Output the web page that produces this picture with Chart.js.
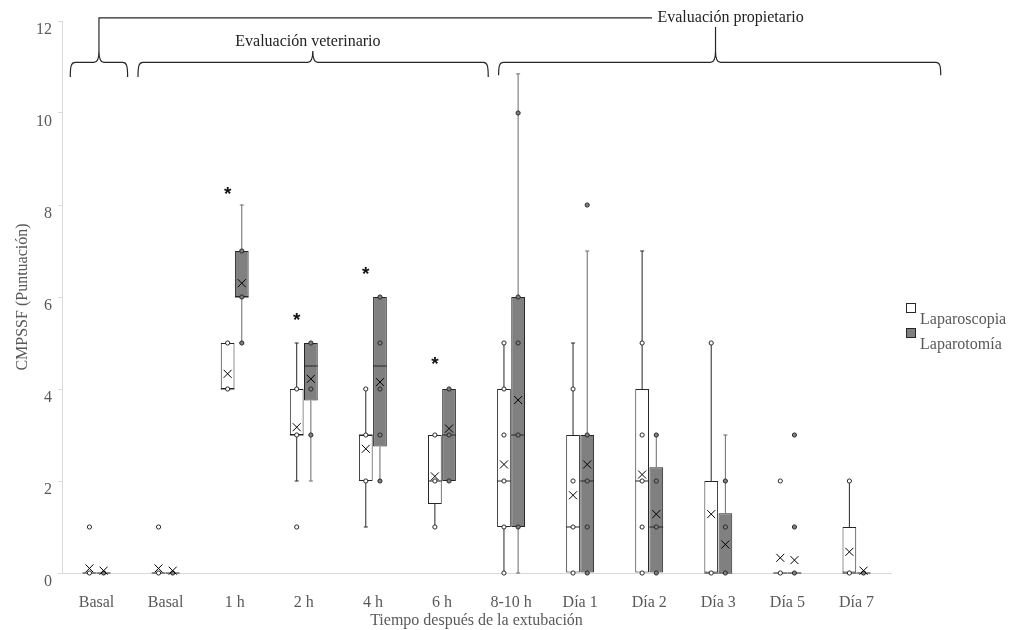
<!DOCTYPE html>
<html><head><meta charset="utf-8">
<script src="https://cdn.jsdelivr.net/npm/chart.js@4/dist/chart.umd.min.js"></script>
<style>html,body{margin:0;padding:0;background:#fff}#wrap{width:1014px;height:630px}</style>
</head><body><div id="wrap"><canvas id="c" width="1014" height="630"></canvas></div>
<script>
const categories = ['Basal','Basal','1 h','2 h','4 h','6 h','8-10 h','Día 1','Día 2','Día 3','Día 5','Día 7'];
const yTicks = [0,2,4,6,8,10,12];

// Laparoscopia (white boxes)
const lapMin  = [0,0,4,2,1,1,0,0,0,0,0,0];
const lapQ1   = [0,0,4,3,2,1.5,1,0,0,0,0,0];
const lapMed  = [0,0,4,3,3,2,2,1,2,0,0,0];
const lapQ3   = [0,0,5,4,3,3,4,3,4,2,0,1];
const lapMax  = [0,0,5,5,4,3,5,5,7,5,0,2];
const lapMean = [0.1,0.1,4.33,3.17,2.7,2.1,2.36,1.69,2.14,1.28,0.33,0.46];
const lapPoints = [[0,1],[0,1],[4,5],[1,3,4],[2,3,4],[1,2,3],[0,1,2,3,4,5],[0,1,2,4],[0,1,2,3,5],[0,5],[0,2],[0,2]];

// Laparotomía (grey boxes)
const lotMin  = [0,0,5,2,2,2,0,0,0,0,0,0];
const lotQ1   = [0,0,6,3.75,2.75,2,1,0,0,0,0,0];
const lotMed  = [0,0,6,4.5,4.5,3,3,2,1,0,0,0];
const lotQ3   = [0,0,7,5,6,4,6,3,2.3,1.3,0,0];
const lotMax  = [0,0,8,5,6,4,10.85,7,3,3,0,0];
const lotMean = [0.05,0.05,6.3,4.22,4.15,3.14,3.76,2.36,1.28,0.62,0.28,0.05];
const lotPoints = [[0],[0],[5,6,7],[3,4,5],[2,3,4,5,6],[2,3,4],[1,3,5,6,10],[0,1,2,3,8],[0,1,2,3],[0,1,2],[0,1,3],[0]];

// significance marks (value where the asterisk sits, above the white box)
const sigY = [null,null,8.35,5.6,6.6,4.65,null,null,null,null,null,null];

const series = [
  {label:'Laparoscopia', fill:'#ffffff', whisker:'#262626', min:lapMin, q1:lapQ1, med:lapMed, q3:lapQ3, max:lapMax, mean:lapMean, pts:lapPoints},
  {label:'Laparotomía', fill:'#808080', whisker:'#6a6a6a', min:lotMin, q1:lotQ1, med:lotMed, q3:lotQ3, max:lotMax, mean:lotMean, pts:lotPoints}
];

const SERIF = '"Liberation Serif", "Times New Roman", serif';
const GREY = '#595959';

function brace(ctx, xa, xb, xm, yLine, yEnd, yTip) {
  ctx.beginPath();
  ctx.moveTo(xa, yEnd);
  ctx.bezierCurveTo(xa, yLine + 3, xa + 1, yLine, xa + 5, yLine);
  ctx.lineTo(xm - 5, yLine);
  ctx.quadraticCurveTo(xm, yLine, xm, yTip);
  ctx.quadraticCurveTo(xm, yLine, xm + 5, yLine);
  ctx.lineTo(xb - 5, yLine);
  ctx.bezierCurveTo(xb - 1, yLine, xb, yLine + 3, xb, yEnd);
  ctx.stroke();
}

const boxPlugin = {
  id: 'boxExtras',
  afterDatasetsDraw(chart) {
    const ctx = chart.ctx;
    const ys = chart.scales.y, xs = chart.scales.x;
    const Y = v => ys.getPixelForValue(v);
    ctx.save();
    series.forEach((s, d) => {
      const meta = chart.getDatasetMeta(d);
      meta.data.forEach((bar, i) => {
        const x = bar.x, w = bar.width;
        ctx.strokeStyle = s.whisker; ctx.lineWidth = 1;
        // whiskers
        ctx.beginPath();
        if (s.max[i] > s.q3[i]) {
          ctx.moveTo(x, Y(s.q3[i])); ctx.lineTo(x, Y(s.max[i]));
          ctx.moveTo(x - 2, Y(s.max[i])); ctx.lineTo(x + 2, Y(s.max[i]));
        }
        if (s.min[i] < s.q1[i]) {
          ctx.moveTo(x, Y(s.q1[i])); ctx.lineTo(x, Y(s.min[i]));
          ctx.moveTo(x - 2, Y(s.min[i])); ctx.lineTo(x + 2, Y(s.min[i]));
        }
        ctx.stroke();
        // median
        ctx.strokeStyle = '#262626';
        ctx.beginPath();
        ctx.moveTo(x - w / 2, Y(s.med[i])); ctx.lineTo(x + w / 2, Y(s.med[i]));
        ctx.stroke();
        // points
        s.pts[i].forEach(v => {
          ctx.beginPath();
          ctx.arc(x, Y(v), 2.1, 0, Math.PI * 2);
          ctx.fillStyle = s.fill; ctx.fill();
          ctx.strokeStyle = '#2a2a2a'; ctx.stroke();
        });
        // mean
        const my = Y(s.mean[i]);
        ctx.strokeStyle = '#000';
        ctx.beginPath();
        ctx.moveTo(x - 4, my - 4); ctx.lineTo(x + 4, my + 4);
        ctx.moveTo(x + 4, my - 4); ctx.lineTo(x - 4, my + 4);
        ctx.stroke();
      });
    });
    // asterisks
    const m0 = chart.getDatasetMeta(0);
    ctx.fillStyle = '#111';
    ctx.font = 'bold 19px "Liberation Sans", Arial, sans-serif';
    ctx.textAlign = 'center'; ctx.textBaseline = 'alphabetic';
    sigY.forEach((v, i) => {
      if (v === null) return;
      ctx.fillText('*', m0.data[i].x, Y(v) + 0.58 * 19);
    });

    // group braces
    const X = u => xs.getPixelForValue(u);
    ctx.strokeStyle = '#262626'; ctx.lineWidth = 1.2;
    const yLine = Y(11.1), yEnd = Y(10.78), yTip = Y(11.35);
    brace(ctx, X(-0.38), X(0.45), X(0.035), yLine, yEnd, yTip);
    brace(ctx, X(0.6), X(5.67), X(3.13), yLine, yEnd, yTip);
    brace(ctx, X(5.82), X(12.22), X(8.96), yLine, Y(10.82), yTip);
    const yTop = Y(12.07);
    ctx.beginPath();
    ctx.moveTo(X(0.035), yTip); ctx.lineTo(X(0.035), yTop); ctx.lineTo(X(8.04), yTop);
    ctx.moveTo(X(8.96), yTip); ctx.lineTo(X(8.96), Y(11.87));
    ctx.stroke();
    ctx.fillStyle = '#222';
    ctx.font = '16px ' + SERIF;
    ctx.textBaseline = 'middle';
    ctx.textAlign = 'left';
    ctx.fillText('Evaluación propietario', X(8.12), yTop);
    ctx.textAlign = 'center';
    ctx.fillText('Evaluación veterinario', X(3.06), Y(11.54));

    // legend
    const ca = chart.chartArea;
    const lx = ca.right + 15, mid = (ca.top + ca.bottom) / 2;
    series.forEach((s, d) => {
      const top = mid + 6 + d * 25;
      ctx.fillStyle = s.fill; ctx.fillRect(lx + 0.5, top + 0.5, 9, 9);
      ctx.strokeStyle = '#262626'; ctx.lineWidth = 1; ctx.strokeRect(lx + 0.5, top + 0.5, 9, 9);
      ctx.fillStyle = GREY; ctx.font = '16px ' + SERIF;
      ctx.textAlign = 'left'; ctx.textBaseline = 'alphabetic';
      ctx.fillText(s.label, lx + 14, top + 21);
    });
    ctx.restore();
  }
};

new Chart(document.getElementById('c'), {
  type: 'bar',
  data: {
    labels: categories,
    datasets: series.map(s => ({
      label: s.label,
      data: s.q1.map((v, i) => [v, s.q3[i]]),
      backgroundColor: s.fill,
      borderColor: '#262626',
      borderWidth: 1,
      borderSkipped: false,
      categoryPercentage: 0.41,
      barPercentage: 0.97
    }))
  },
  options: {
    responsive: false,
    animation: false,
    layout: {padding: {top: 21, right: 123, left: 0, bottom: 0}},
    plugins: {legend: {display: false}, tooltip: {enabled: false}},
    scales: {
      x: {
        grid: {display: true, drawOnChartArea: false, drawTicks: false},
        border: {color: '#d9d9d9'},
        ticks: {color: GREY, font: {family: SERIF, size: 16}, padding: 20, maxRotation: 0, autoSkip: false},
        title: {display: true, text: 'Tiempo después de la extubación', color: GREY, font: {family: SERIF, size: 16}, padding: {top: 0, bottom: 0}},
        afterFit: s => { s.height = 57; }
      },
      y: {
        min: 0, max: 12,
        afterBuildTicks: s => { s.ticks = yTicks.map(v => ({value: v})); },
        ticks: {color: GREY, font: {family: SERIF, size: 16}, padding: 6, labelOffset: 9},
        grid: {drawOnChartArea: false, drawTicks: true, tickLength: 4, color: '#d9d9d9'},
        border: {color: '#d9d9d9'},
        title: {display: true, text: 'CMPSSF (Puntuación)', color: GREY, font: {family: SERIF, size: 16}, padding: {top: 13, bottom: 0}},
        afterFit: s => { s.width = 62; }
      }
    }
  },
  plugins: [boxPlugin]
});
</script>
</body></html>
